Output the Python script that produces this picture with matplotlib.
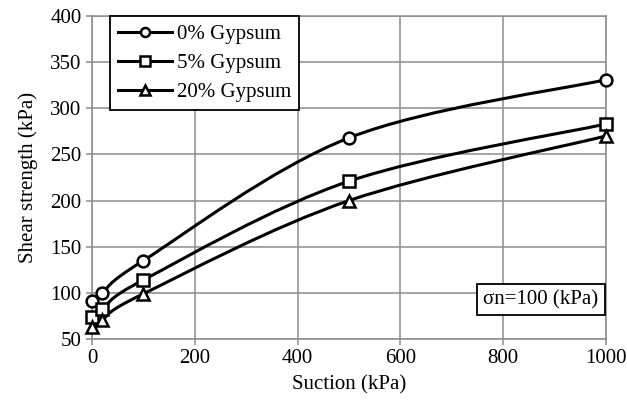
import numpy as np
import matplotlib.pyplot as plt
from matplotlib.path import Path
from matplotlib.patches import PathPatch
from matplotlib.lines import Line2D

plt.rcParams['font.family'] = ['Liberation Serif', 'DejaVu Serif']

suction = [0, 20, 100, 500, 1000]
g0 = [91, 100, 135, 268, 331]
g5 = [74, 82, 114, 221, 283]
g20 = [63, 71, 99, 200, 270]
labels = ['0% Gypsum', '5% Gypsum', '20% Gypsum']
markers = ['o', 's', '^']

fs = 15

fig = plt.figure(figsize=(6.27, 4.09), dpi=100)
ax = fig.add_axes([0.1467, 0.1711, 0.8198, 0.7898])
ax.set_xlim(0, 1000)
ax.set_ylim(50, 400)


def smooth_path(xs, ys):
    # excel-like smoothed line: cubic bezier segments, done in axes fraction space
    pts = ax.transLimits.transform(np.column_stack([xs, ys]))
    n = len(pts)
    verts = [pts[0]]
    codes = [Path.MOVETO]
    for i in range(n - 1):
        p0 = pts[i - 1] if i > 0 else pts[i]
        p1 = pts[i]
        p2 = pts[i + 1]
        p3 = pts[i + 2] if i + 2 < n else pts[i + 1]
        c1 = p1 + (p2 - p0) / 6.0
        c2 = p2 - (p3 - p1) / 6.0
        verts += [c1, c2, p2]
        codes += [Path.CURVE4] * 3
    return Path(verts, codes)


for ys, lab, m in zip([g0, g5, g20], labels, markers):
    patch = PathPatch(smooth_path(suction, ys), transform=ax.transAxes,
                      fill=False, edgecolor='black', lw=2.2, zorder=3)
    ax.add_patch(patch)
    ax.plot(suction, ys, linestyle='none', marker=m, markersize=8.5,
            markerfacecolor='white', markeredgecolor='black',
            markeredgewidth=1.8, zorder=4, clip_on=False)

ax.set_xticks(range(0, 1001, 200))
ax.set_yticks(range(50, 401, 50))
ax.grid(True, color='#8c8c8c', lw=1.1)
ax.set_axisbelow(True)
for s in ax.spines.values():
    s.set_color('#8c8c8c')
    s.set_linewidth(1.1)
ax.tick_params(colors='#8c8c8c', labelcolor='black', labelsize=fs,
               length=4.5, width=1.1, pad=3)
ax.set_xlabel('Suction (kPa)', fontsize=fs, labelpad=5)
ax.set_ylabel('Shear strength (kPa)', fontsize=fs, labelpad=9)

handles = [Line2D([], [], color='black', lw=2.2, marker=m, markersize=6.5,
                  markerfacecolor='white', markeredgecolor='black',
                  markeredgewidth=1.8) for m in markers]
leg = ax.legend(handles, labels, loc='upper left', bbox_to_anchor=(0.035, 1.0),
                fontsize=fs, frameon=True, fancybox=False, edgecolor='black',
                framealpha=1, handlelength=2.6, handletextpad=0.2,
                borderaxespad=0, labelspacing=0.45, borderpad=0.4)
leg.get_frame().set_linewidth(1.3)

ax.text(0.985, 0.122, 'σn=100 (kPa)', transform=ax.transAxes, ha='right',
        va='center', fontsize=fs,
        bbox=dict(boxstyle='square,pad=0.3', facecolor='white',
                  edgecolor='black', lw=1.3))

fig.savefig('out.png', dpi=100)
